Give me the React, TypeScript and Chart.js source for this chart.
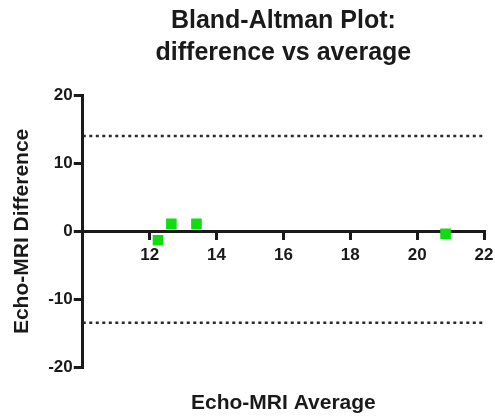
import React, { useEffect, useRef } from 'react';
import { Chart, registerables } from 'chart.js';

Chart.register(...registerables);

const titleLines = ['Bland-Altman Plot:', 'difference vs average'];
const xTitle = 'Echo-MRI Average';
const yTitle = 'Echo-MRI Difference';

const avgValues = [12.25, 12.65, 13.4, 20.85];
const diffValues = [-1.3, 1.1, 1.1, -0.35];

const xRange = [10, 22];
const xStep = 2;
const yRange = [-20, 20];
const yStep = 10;

const upperLimit = 14.0;
const lowerLimit = -13.4;

const FONT = "'Liberation Sans', Arial, sans-serif";
const INK = '#1a1a1a';

export default function App() {
  const ref = useRef<HTMLCanvasElement | null>(null);

  useEffect(() => {
    if (!ref.current) return;
    const chart = new Chart(ref.current, {
      type: 'scatter',
      data: {
        datasets: [
          {
            label: 'Points',
            data: avgValues.map((x, i) => ({ x, y: diffValues[i] })),
            backgroundColor: '#10dc10',
            borderWidth: 0,
            pointStyle: 'rect',
            pointRadius: 7.5,
            order: 0,
          },
          {
            type: 'line',
            label: 'Upper',
            data: xRange.map((x) => ({ x, y: upperLimit })),
            borderColor: '#2a2a2a',
            borderWidth: 2.5,
            borderDash: [3, 3.5],
            pointRadius: 0,
            order: 1,
          } as any,
          {
            type: 'line',
            label: 'Lower',
            data: xRange.map((x) => ({ x, y: lowerLimit })),
            borderColor: '#2a2a2a',
            borderWidth: 2.5,
            borderDash: [3, 3.5],
            pointRadius: 0,
            order: 1,
          } as any,
        ],
      },
      options: {
        animation: false,
        responsive: true,
        maintainAspectRatio: false,
        layout: { padding: { left: 10, right: 11, top: 0, bottom: 3 } },
        plugins: {
          legend: { display: false },
          tooltip: { enabled: false },
          title: {
            display: true,
            text: titleLines,
            fullSize: false,
            color: INK,
            font: { family: FONT, size: 25, weight: 'bold', lineHeight: 1.28 },
            padding: { top: 5, bottom: 26 },
          },
          subtitle: {
            display: true,
            position: 'bottom',
            text: xTitle,
            fullSize: false,
            color: INK,
            font: { family: FONT, size: 21, weight: 'bold', lineHeight: 1.2 },
            padding: { top: 23, bottom: 0 },
          },
        },
        scales: {
          x: {
            type: 'linear',
            position: { y: 0 } as any,
            min: xRange[0],
            max: xRange[1],
            afterFit: (scale: any) => {
              scale.paddingLeft = 0;
              scale.paddingRight = 0;
            },
            ticks: {
              stepSize: xStep,
              color: INK,
              padding: 7,
              font: { family: FONT, size: 17, weight: 'bold' },
              callback: (v: any) => (v === xRange[0] ? '' : String(v)),
            },
            grid: {
              display: true,
              drawOnChartArea: false,
              drawTicks: true,
              tickLength: 7,
              lineWidth: 3,
              color: (ctx: any) => (ctx.tick && ctx.tick.value === xRange[0] ? 'rgba(0,0,0,0)' : INK),
            },
            border: { display: true, color: INK, width: 3 },
          },
          y: {
            type: 'linear',
            position: 'left',
            min: yRange[0],
            max: yRange[1],
            ticks: {
              stepSize: yStep,
              color: INK,
              padding: 1,
              font: { family: FONT, size: 17, weight: 'bold' },
            },
            grid: {
              display: true,
              drawOnChartArea: false,
              drawTicks: true,
              tickLength: 9,
              lineWidth: 3,
              color: INK,
            },
            border: { display: true, color: INK, width: 3 },
            title: {
              display: true,
              text: yTitle,
              color: INK,
              font: { family: FONT, size: 21, weight: 'bold', lineHeight: 1.2 },
              padding: { top: 0, bottom: 12 },
            },
          },
        },
      },
    });
    return () => chart.destroy();
  }, []);

  return (
    <div style={{ position: 'fixed', left: 0, top: 0, width: 495, height: 419, background: '#fff' }}>
      <canvas ref={ref} />
    </div>
  );
}
